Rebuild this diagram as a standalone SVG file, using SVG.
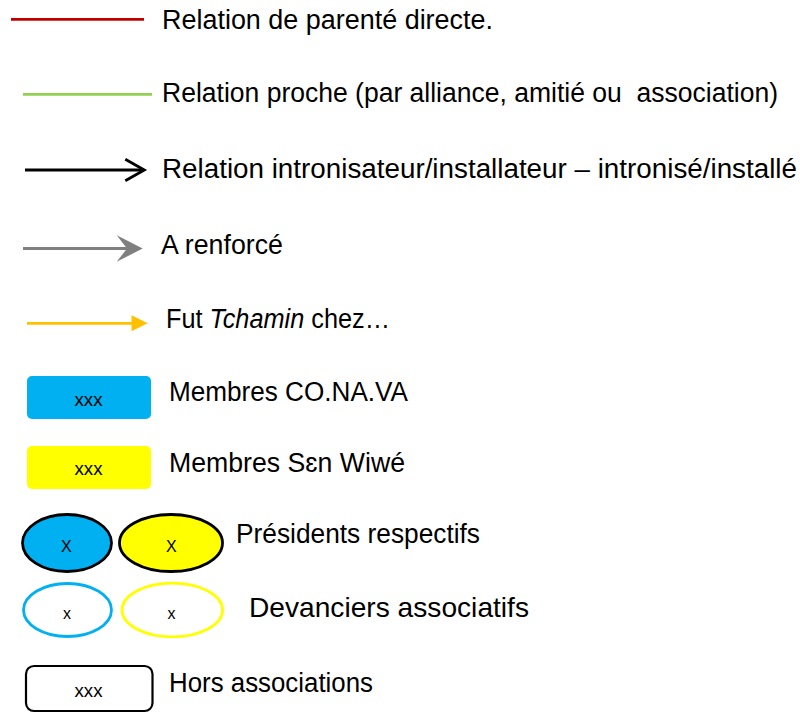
<svg xmlns="http://www.w3.org/2000/svg" width="800" height="713" viewBox="0 0 800 713">
<style>
.lbl{font-family:"Liberation Sans",Arial,sans-serif;font-size:27px;fill:#000}
.sm{font-family:"Liberation Sans",Arial,sans-serif;font-size:18px;fill:#000;text-anchor:middle}
.xs{font-family:"Liberation Sans",Arial,sans-serif;font-size:16px;fill:#000;text-anchor:middle}
.ln{fill:none;stroke-linecap:butt;stroke-width:2.8}
</style>
<defs>
<marker id="mOpen" markerUnits="userSpaceOnUse" viewBox="-22 -14 26 28" refX="0" refY="0" markerWidth="26" markerHeight="28" orient="auto" overflow="visible">
<path d="M-17.7,-10.7 L1.3,0 L-17.7,10.7" fill="none" stroke="#000" stroke-width="2.8"/>
</marker>
<marker id="mGray" markerUnits="userSpaceOnUse" viewBox="-12 -15 30 30" refX="0" refY="0" markerWidth="30" markerHeight="30" orient="auto" overflow="visible">
<path d="M15.7,0 L-10.3,-13.3 L0,0 L-10.3,13.3 Z" fill="#808080"/>
</marker>
<marker id="mGold" markerUnits="userSpaceOnUse" viewBox="-2 -10 20 20" refX="0" refY="0" markerWidth="20" markerHeight="20" orient="auto" overflow="visible">
<path d="M-0.5,-8 L15.7,0 L-0.5,8 Z" fill="#FFC000"/>
</marker>
</defs>
<rect width="800" height="713" fill="#fff"/>
<g id="connectors">
<line class="ln" x1="11" y1="19.3" x2="144" y2="19.3" stroke="#C00000"/>
<line class="ln" x1="23" y1="94.3" x2="152" y2="94.3" stroke="#92D050"/>
<line class="ln" x1="25" y1="170" x2="143" y2="170" stroke="#000" marker-end="url(#mOpen)"/>
<line class="ln" x1="23" y1="248.5" x2="127" y2="248.5" stroke="#808080" style="stroke-width:3" marker-end="url(#mGray)"/>
<line class="ln" x1="27" y1="323.3" x2="132" y2="323.3" stroke="#FFC000" marker-end="url(#mGold)"/>
</g>
<g id="legend-labels">
<text class="lbl" x="162" y="29" textLength="331" lengthAdjust="spacingAndGlyphs">Relation de parenté directe.</text>
<text class="lbl" x="162" y="102" xml:space="preserve" textLength="616" lengthAdjust="spacingAndGlyphs">Relation proche (par alliance, amitié ou  association)</text>
<text class="lbl" x="162" y="178" textLength="635" lengthAdjust="spacingAndGlyphs">Relation intronisateur/installateur – intronisé/installé</text>
<text class="lbl" x="161" y="254" textLength="122" lengthAdjust="spacingAndGlyphs">A renforcé</text>
<text class="lbl" x="166" y="328" textLength="224" lengthAdjust="spacingAndGlyphs">Fut <tspan font-style="italic">Tchamin</tspan> chez…</text>
</g>
<g id="node-conava">
<rect x="27" y="376" width="124" height="43" rx="5" fill="#00B0F0"/>
<text class="sm" x="88.5" y="406" textLength="28" lengthAdjust="spacingAndGlyphs">xxx</text>
<text class="lbl" x="169" y="401" textLength="239" lengthAdjust="spacingAndGlyphs">Membres CO.NA.VA</text>
</g>
<g id="node-senwiwe">
<rect x="27" y="446" width="124" height="43" rx="5" fill="#FFFF00"/>
<text class="sm" x="88.5" y="475" textLength="28" lengthAdjust="spacingAndGlyphs">xxx</text>
<text class="lbl" x="169" y="472" textLength="236" lengthAdjust="spacingAndGlyphs">Membres Sɛn Wiwé</text>
</g>
<g id="node-presidents">
<ellipse cx="67" cy="543" rx="44.5" ry="28.5" fill="#00B0F0" stroke="#000" stroke-width="2.8"/>
<ellipse cx="171" cy="543" rx="51.5" ry="28.5" fill="#FFFF00" stroke="#000" stroke-width="2.8"/>
<text class="xs" x="66.3" y="552">X</text>
<text class="xs" x="171.3" y="552">X</text>
<text class="lbl" x="236" y="543" textLength="244" lengthAdjust="spacingAndGlyphs">Présidents respectifs</text>
</g>
<g id="node-devanciers">
<ellipse cx="67.5" cy="610" rx="44" ry="26.5" fill="#fff" stroke="#00B0F0" stroke-width="2.8"/>
<ellipse cx="172.3" cy="610" rx="50.3" ry="26.8" fill="#fff" stroke="#FFFF00" stroke-width="2.8"/>
<text class="xs" x="67" y="619">x</text>
<text class="xs" x="171.5" y="619">x</text>
<text class="lbl" x="249" y="617" style="font-size:28.5px" textLength="280" lengthAdjust="spacingAndGlyphs">Devanciers associatifs</text>
</g>
<g id="node-hors">
<rect x="26" y="666" width="126.5" height="45" rx="8" fill="#fff" stroke="#000" stroke-width="2.2"/>
<text class="sm" x="88.5" y="697" textLength="28" lengthAdjust="spacingAndGlyphs">xxx</text>
<text class="lbl" x="169" y="692" textLength="204" lengthAdjust="spacingAndGlyphs">Hors associations</text>
</g>
</svg>
